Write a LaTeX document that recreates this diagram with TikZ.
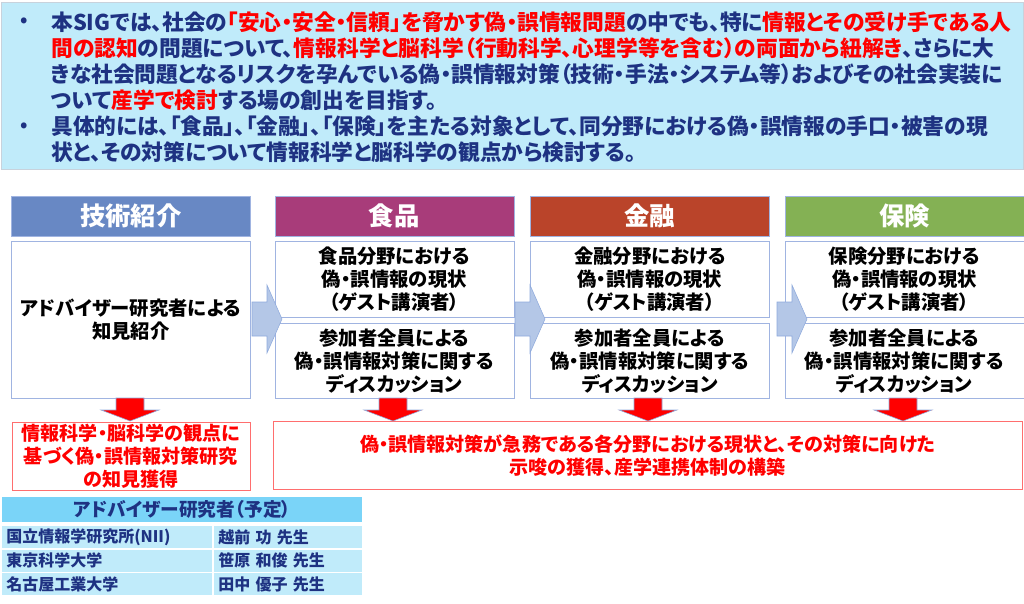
\documentclass[tikz,border=0pt]{standalone}
\usepackage{fontspec}
\setmainfont{Noto Sans CJK JP}[RawFeature={+palt}]
\usetikzlibrary{positioning}

\definecolor{navy}{RGB}{30,50,130}
\definecolor{topfill}{RGB}{192,235,250}
\definecolor{tabhead}{RGB}{122,212,248}
\definecolor{boxline}{RGB}{160,180,225}
\definecolor{resline}{RGB}{255,110,110}
\definecolor{techcol}{RGB}{104,136,196}
\definecolor{foodcol}{RGB}{168,60,122}
\definecolor{fincol}{RGB}{186,68,42}
\definecolor{inscol}{RGB}{132,177,84}
\definecolor{arrfill}{RGB}{180,199,231}
\definecolor{arrline}{RGB}{143,170,220}
\newcommand{\redtxt}[1]{\textcolor{red}{#1}}

\begin{document}
\begin{tikzpicture}[x=0.75pt,y=-0.75pt]
  \tikzstyle{every node}=[inner sep=0pt]
  \tikzstyle{head}=[draw=boxline,minimum width=179.25pt,minimum height=30pt,text=white,
                    font=\bfseries\fontsize{19}{22}\selectfont]
  \tikzstyle{cell}=[draw=boxline,fill=white,minimum width=179.25pt,align=center,
                    font=\bfseries\fontsize{14.5}{17.25}\selectfont]
  \tikzstyle{result}=[draw=resline,fill=white,minimum height=51pt,align=center,text=red,
                    font=\bfseries\fontsize{14.3}{17.5}\selectfont]
  \tikzstyle{tabcell}=[fill=topfill,minimum height=16.5pt,inner xsep=3pt,align=left,text=navy,
                    font=\bfseries\fontsize{12}{14}\selectfont,anchor=north west]
  \tikzstyle{bluearrow}=[draw=arrline,fill=arrfill]
  \tikzstyle{redarrow}=[draw=arrline,fill=red]

  \useasboundingbox (0,0) rectangle (1024,603);

  % overview
  \node[draw={rgb,255:red,200;green,210;blue,220},fill=topfill,minimum width=766.5pt,
        minimum height=125.25pt,anchor=north west] (intro) at (1,2) {};
  \node[text=navy,align=left,anchor=north west,font=\bfseries\fontsize{16.3}{19.5}\selectfont]
        (introtext) at (51,11)
    {本SIGでは、社会の\redtxt{「安心・安全・信頼」を脅かす偽・誤情報問題}の中でも、特に\redtxt{情報とその受け手である人}\\
     \redtxt{間の認知}の問題について、\redtxt{情報科学と脳科学（行動科学、心理学等を含む）の両面から紐解き}、さらに大\\
     きな社会問題となるリスクを孕んでいる偽・誤情報対策（技術・手法・システム等）およびその社会実装に\\
     ついて\redtxt{産学で検討}する場の創出を目指す。\\
     具体的には、「食品」、「金融」、「保険」を主たる対象として、同分野における偽・誤情報の手口・被害の現\\
     状と、その対策について情報科学と脳科学の観点から検討する。};
  \node[text=navy,font=\bfseries\fontsize{14}{16}\selectfont] (bul1) at (24,22) {•};
  \node[text=navy,font=\bfseries\fontsize{14}{16}\selectfont] (bul2) at (24,127) {•};

  % columns
  \node[head,fill=techcol,anchor=north west] (headT) at (11,196) {技術紹介};
  \node[head,fill=foodcol] (headF) [right=18pt of headT]   {食品};
  \node[head,fill=fincol]  (headM) [right=12pt of headF]   {金融};
  \node[head,fill=inscol]  (headI) [right=11.25pt of headM] {保険};

  \node[cell,minimum height=117.75pt] (bodyT) [below=3pt of headT]
    {アドバイザー研究者による\\知見紹介};

  \node[cell,minimum height=57pt] (nowF) [below=3pt of headF]
    {食品分野における\\偽・誤情報の現状\\（ゲスト講演者）};
  \node[cell,minimum height=56.25pt] (talkF) [below=4.5pt of nowF]
    {参加者全員による\\偽・誤情報対策に関する\\ディスカッション};

  \node[cell,minimum height=57pt] (nowM) [below=3pt of headM]
    {金融分野における\\偽・誤情報の現状\\（ゲスト講演者）};
  \node[cell,minimum height=56.25pt] (talkM) [below=4.5pt of nowM]
    {参加者全員による\\偽・誤情報対策に関する\\ディスカッション};

  \node[cell,minimum height=57pt] (nowI) [below=3pt of headI]
    {保険分野における\\偽・誤情報の現状\\（ゲスト講演者）};
  \node[cell,minimum height=56.25pt] (talkI) [below=4.5pt of nowI]
    {参加者全員による\\偽・誤情報対策に関する\\ディスカッション};

  % arrows between columns
  \foreach \ax in {252,515,777}
    \draw[bluearrow] (\ax,302) -- (\ax+15,302) -- (\ax+15,285) -- (\ax+30,319)
                     -- (\ax+15,353) -- (\ax+15,336) -- (\ax,336) -- cycle;

  % results
  \node[result,minimum width=178.5pt] (resT) [below=18pt of bodyT]
    {情報科学・脳科学の観点に\\基づく偽・誤情報対策研究\\の知見獲得};
  \node[result,minimum width=561.75pt,anchor=north west] (resAll) at (273,421)
    {偽・誤情報対策が急務である各分野における現状と、その対策に向けた\\示唆の獲得、産学連携体制の構築};

  \foreach \cx in {130,393,648,903}
    \draw[redarrow] (\cx-14,398) -- (\cx+14,398) -- (\cx+14,410) -- (\cx+29,410)
                    -- (\cx,421) -- (\cx-29,410) -- (\cx-14,410) -- cycle;

  % advisers
  \node[fill=tabhead,minimum width=270pt,minimum height=18.75pt,anchor=north west,text=navy,
        font=\bfseries\fontsize{14}{16}\selectfont] (tabtitle) at (2,497) {アドバイザー研究者（予定）};
  \node[tabcell,text width=151.5pt] (org1) at (2,526)   {国立情報学研究所(NII)};
  \node[tabcell,text width=105pt]   (name1) at (214,526) {越前 功 先生};
  \node[tabcell,text width=151.5pt] (org2) at (2,549.5)  {東京科学大学};
  \node[tabcell,text width=105pt]   (name2) at (214,549.5) {笹原 和俊 先生};
  \node[tabcell,text width=151.5pt] (org3) at (2,573)   {名古屋工業大学};
  \node[tabcell,text width=105pt]   (name3) at (214,573) {田中 優子 先生};
\end{tikzpicture}
\end{document}
